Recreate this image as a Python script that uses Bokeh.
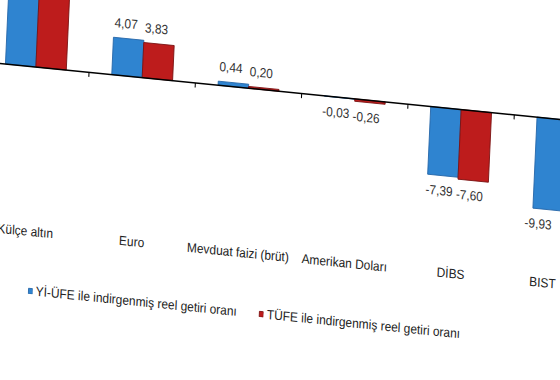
import numpy as np
from bokeh.plotting import figure
from bokeh.models import ColumnDataSource, Range1d, Span, GlobalInlineStyleSheet
from bokeh.transform import dodge
from bokeh.core.properties import value
from bokeh.embed import file_html
from bokeh.resources import INLINE

# ---- data ----
categories = ["Külçe altın", "Euro", "Mevduat faizi (brüt)", "Amerikan Doları", "DİBS", "BIST"]
yi_ufe = [14.25, 4.07, 0.44, -0.03, -7.39, -9.93]
tufe = [13.91, 3.83, 0.20, -0.26, -7.60, -10.12]
series_names = ["Yİ-ÜFE ile indirgenmiş reel getiri oranı",
                "TÜFE ile indirgenmiş reel getiri oranı"]

# ---- style ----
BLUE, BLUE_LINE = "#2F84D0", "#2566A8"
RED, RED_LINE = "#BD1C1C", "#7A1212"
FONT = "Liberation Sans"
FS = "11.5px"
Y_START, Y_END = -26.54, 9.21
AXIS_MIN = -19.29            # value axis minimum, where category labels sit
X_START, X_END = -0.3686, 5.122
BAR_W = 0.286
X_VISIBLE = len(categories) - 1   # right edge of the photographed window
TICK_PX = 4
MIN_BORDER_BOTTOM = 4

# skew of the photographed chart (CSS matrix a, b, c, d, e, f)
MA, MB, MC, MD, ME, MF = 1.035, 0.1035, -0.052, 1.15, 0, -22
CANVAS_W, CANVAS_H = 564, 290
# Bokeh sizes its canvas from the transformed bounding box, so pick the
# element size whose transformed box equals the wanted canvas size.
H_EL = (CANVAS_H - MB / MA * CANVAS_W) / (MD + MB / MA * MC)
W_EL = (CANVAS_W + MC * H_EL) / MA
PXU = (CANVAS_H - MIN_BORDER_BOTTOM) / (Y_END - Y_START)

xs = np.arange(len(categories))

def fmt(v):
    return f"{v:.2f}".replace(".", ",")

src = ColumnDataSource(dict(x=xs, cat=categories, yi=yi_ufe, tu=tufe))

skew_css = (f".skewme {{ transform: matrix({MA}, {MB}, {MC}, {MD}, {ME}, {MF}); "
            "transform-origin: 0 0; } html, body { overflow: hidden; }")

p = figure(width=int(round(W_EL)), height=int(round(H_EL)), output_backend="svg",
           toolbar_location=None,
           x_range=Range1d(X_START, X_END), y_range=Range1d(Y_START, Y_END),
           x_axis_location=None, y_axis_location=None,
           min_border_left=0, min_border_right=0, min_border_top=0,
           min_border_bottom=MIN_BORDER_BOTTOM,
           css_classes=["skewme"],
           stylesheets=[GlobalInlineStyleSheet(css=skew_css)])
p.outline_line_color = None
p.xgrid.visible = False
p.ygrid.visible = False
p.background_fill_color = "white"
p.border_fill_color = "white"

p.vbar(x=dodge("x", -BAR_W / 2, range=p.x_range), top="yi", width=BAR_W, source=src,
       fill_color=BLUE, line_color=BLUE_LINE, line_width=0.8, legend_label=series_names[0])
p.vbar(x=dodge("x", BAR_W / 2, range=p.x_range), top="tu", width=BAR_W, source=src,
       fill_color=RED, line_color=RED_LINE, line_width=0.8, legend_label=series_names[1])

# zero line with category separator ticks
p.add_layout(Span(location=0, dimension="width", line_color="black", line_width=1.3))
bounds = xs[:-1] + 0.5
p.segment(x0=bounds, y0=np.zeros(len(bounds)), x1=bounds,
          y1=np.full(len(bounds), -TICK_PX / PXU), line_color="black", line_width=1)

# value labels (only those inside the photographed window)
lx, ly, lt, lyo, lxo = [], [], [], [], []
for i, (a, b) in enumerate(zip(yi_ufe, tufe)):
    for v, d in ((a, -BAR_W / 2), (b, BAR_W / 2)):
        if Y_START < v < Y_END and i + d < X_VISIBLE:
            lx.append(i + d)
            ly.append(v)
            lt.append(fmt(v))
            lyo.append(-13 if v >= 0 else 13)
            lxo.append(-9 if i == X_VISIBLE else -3)
lab = ColumnDataSource(dict(x=lx, y=ly, t=lt, yo=lyo, xo=lxo))
p.text(x="x", y="y", text="t", x_offset="xo", y_offset="yo", source=lab,
       text_align="center", text_baseline="middle", text_font=value(FONT),
       text_font_size=FS, text_color="#333333")

# category labels at the value axis minimum
cat_off = [-3, -3, -3, -3, -3, -17]
src.data["cx_off"] = cat_off
p.text(x="x", y=AXIS_MIN, text="cat", x_offset="cx_off", y_offset=-11, source=src,
       text_align="center", text_baseline="middle", text_font=value(FONT),
       text_font_size=FS, text_color="#222222")

lg = p.legend[0]
lg.location = (40, 10)
lg.orientation = "horizontal"
lg.padding = 0
lg.margin = 0
lg.spacing = 21
lg.glyph_width = 5
lg.glyph_height = 6
lg.label_height = 14
lg.label_standoff = 3
lg.label_text_font = FONT
lg.label_text_font_size = FS
lg.label_text_color = "#222222"
lg.border_line_color = None
lg.background_fill_alpha = 0

open("out.html", "w").write(file_html(p, INLINE))
